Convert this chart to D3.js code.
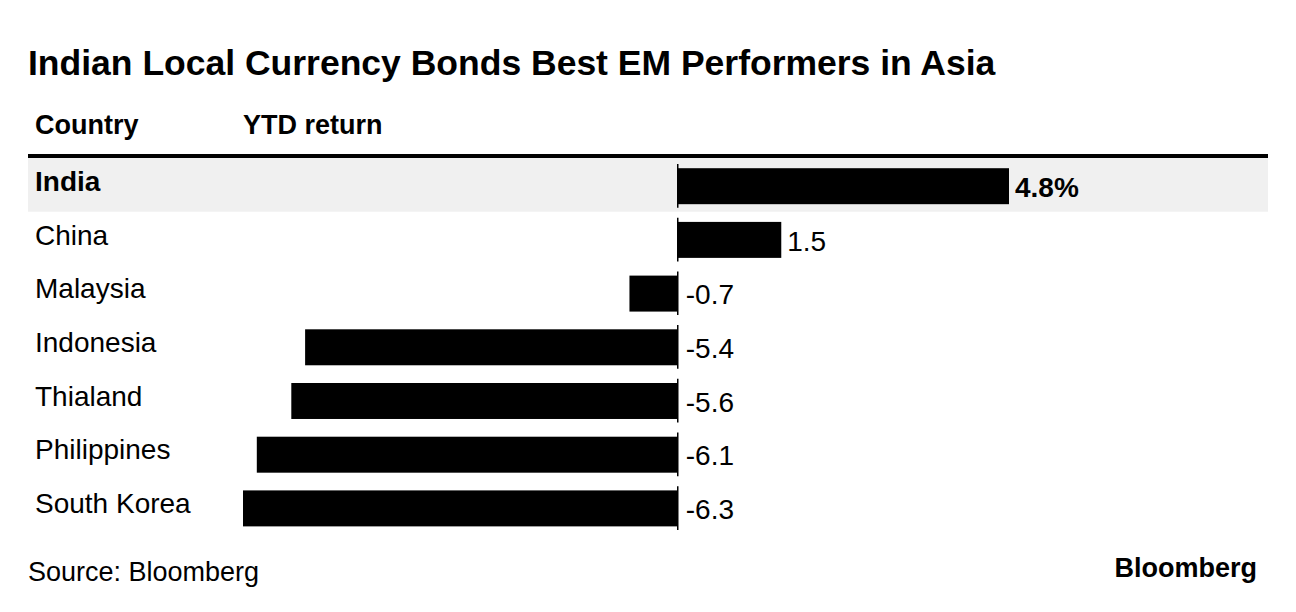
<!DOCTYPE html>
<html>
<head>
<meta charset="utf-8">
<script src="https://cdn.jsdelivr.net/npm/d3@7"></script>
<style>
  html, body { margin: 0; padding: 0; background: #fff; }
  svg { display: block; font-family: "Liberation Sans", Arial, Helvetica, sans-serif; }
</style>
</head>
<body>
<svg id="chart" width="1296" height="612"></svg>
<script>
const countries = ["India", "China", "Malaysia", "Indonesia", "Thialand", "Philippines", "South Korea"];
const returns = [4.8, 1.5, -0.7, -5.4, -5.6, -6.1, -6.3];
const valueLabels = ["4.8%", "1.5", "-0.7", "-5.4", "-5.6", "-6.1", "-6.3"];
const highlight = "India";

const titleText = "Indian Local Currency Bonds Best EM Performers in Asia";
const colHeaders = ["Country", "YTD return"];
const sourceText = "Source: Bloomberg";
const brandText = "Bloomberg";

const data = countries.map((c, i) => ({ country: c, value: returns[i], label: valueLabels[i] }));

const svg = d3.select("#chart");
const left = 28, right = 1268;

const x = d3.scaleLinear().domain([-6.3, 4.8]).range([243, 1009]);
const y = d3.scaleBand().domain(countries).range([158, 158 + 7 * 53.7]).paddingInner(0).paddingOuter(0);
const bw = y.bandwidth();

// Title
svg.append("text").attr("x", left).attr("y", 75)
  .attr("font-size", 35.5).attr("font-weight", "bold").attr("fill", "#000")
  .text(titleText);

// Column headers
svg.append("text").attr("x", 35).attr("y", 134).attr("font-size", 27).attr("font-weight", "bold").attr("fill", "#000").text(colHeaders[0]);
svg.append("text").attr("x", 243).attr("y", 134).attr("font-size", 27).attr("font-weight", "bold").attr("fill", "#000").text(colHeaders[1]);

// Highlight row background
svg.append("rect").attr("x", left).attr("width", right - left)
  .attr("y", y(highlight)).attr("height", bw).attr("fill", "#f0f0f0");

// Top rule
svg.append("rect").attr("x", left).attr("width", right - left).attr("y", 154).attr("height", 4).attr("fill", "#000");

const rows = svg.append("g").selectAll("g").data(data).join("g");

// Bars
rows.append("rect")
  .attr("x", d => Math.min(x(0), x(d.value)))
  .attr("width", d => Math.abs(x(d.value) - x(0)))
  .attr("y", d => y(d.country) + bw * 0.19)
  .attr("height", bw * 0.67)
  .attr("fill", "#000");

// Zero line segments per row
rows.append("line")
  .attr("x1", x(0)).attr("x2", x(0))
  .attr("y1", d => y(d.country) + 6)
  .attr("y2", d => y(d.country) + bw - 4)
  .attr("stroke", "#000").attr("stroke-width", 1.5);

// Country labels
rows.append("text")
  .attr("x", 35)
  .attr("y", d => y(d.country) + bw / 2 + 6)
  .attr("font-size", 28)
  .attr("font-weight", d => d.country === highlight ? "bold" : "normal")
  .attr("fill", "#000")
  .text(d => d.country);

// Value labels
rows.append("text")
  .attr("x", d => d.value >= 0 ? x(d.value) + 6 : x(0) + 8)
  .attr("y", d => y(d.country) + bw / 2 + 12)
  .attr("font-size", 28)
  .attr("font-weight", d => d.country === highlight ? "bold" : "normal")
  .attr("fill", "#000")
  .text(d => d.label);

// Footer
svg.append("text").attr("x", left).attr("y", 581).attr("font-size", 27).attr("fill", "#000").text(sourceText);
svg.append("text").attr("x", 1257).attr("y", 577).attr("text-anchor", "end")
  .attr("font-size", 27).attr("font-weight", "bold").attr("fill", "#000").text(brandText);
</script>
</body>
</html>
